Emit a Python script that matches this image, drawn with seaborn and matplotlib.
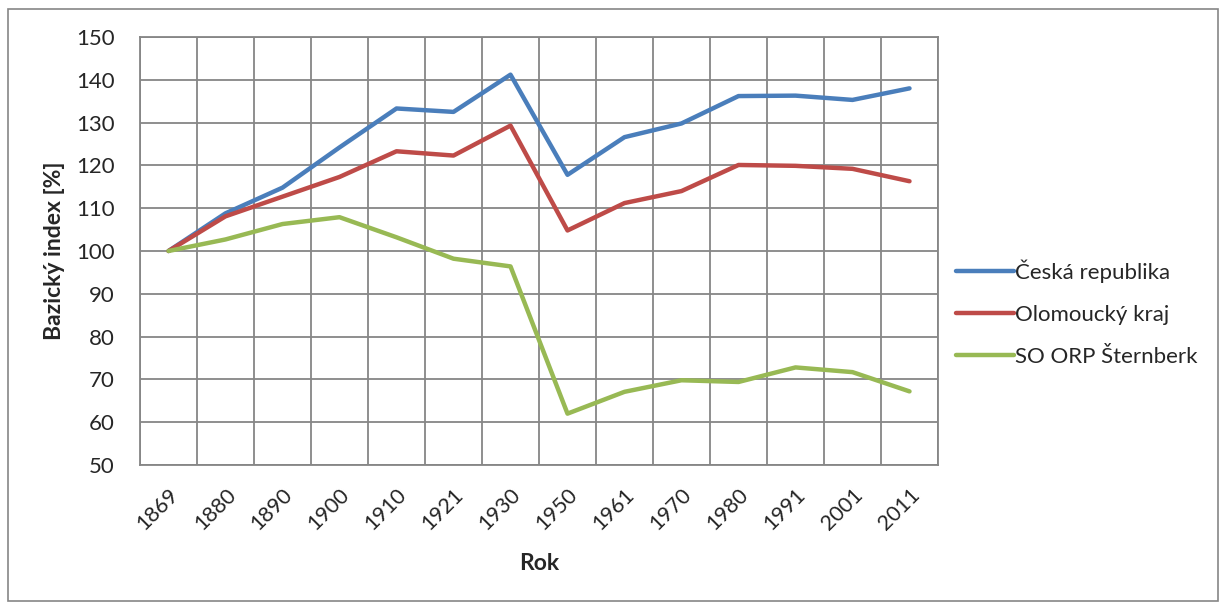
import numpy as np
import pandas as pd
import matplotlib.pyplot as plt
import seaborn as sns
from matplotlib.patches import Rectangle

years = ["1869", "1880", "1890", "1900", "1910", "1921", "1930",
         "1950", "1961", "1970", "1980", "1991", "2001", "2011"]
cr = [100, 108.8, 114.8, 124.2, 133.3, 132.5, 141.2,
      117.8, 126.6, 129.8, 136.2, 136.3, 135.3, 138.0]
olomoucky = [100, 108.1, 112.7, 117.3, 123.3, 122.3, 129.3,
             104.8, 111.2, 114.0, 120.1, 119.9, 119.2, 116.3]
sternberk = [100, 102.7, 106.3, 107.9, 103.2, 98.2, 96.4,
             62.0, 67.1, 69.8, 69.4, 72.8, 71.7, 67.2]
series_names = ["Česká republika", "Olomoucký kraj", "SO ORP Šternberk"]
colors = ["#4A7EBB", "#BE4B48", "#98B954"]

pos = np.arange(len(years))
df = pd.DataFrame({
    "pos": np.tile(pos, 3),
    "value": cr + olomoucky + sternberk,
    "series": np.repeat(series_names, len(years)),
})

sns.set_style("white")
plt.rcParams["font.family"] = ["Lato", "DejaVu Sans"]

fig = plt.figure(figsize=(12.26, 6.09), dpi=100)
ax = fig.add_axes([140 / 1226, 1 - 465 / 609, 798 / 1226, 428 / 609])

sns.lineplot(data=df, x="pos", y="value", hue="series", palette=colors,
             linewidth=3.2, ax=ax, solid_capstyle="round")

grid_col = "#868686"
ax.set_xlim(-0.5, len(years) - 0.5)
ax.set_ylim(50, 150)
ax.set_yticks(np.arange(50, 151, 10))
ax.set_xticks(pos)
ax.set_xticklabels(years, rotation=45, ha="right", rotation_mode="anchor", fontsize=15.5)
ax.set_xticks(np.arange(-0.5, len(years)), minor=True)
ax.tick_params(axis="x", which="major", length=0, pad=14)
ax.tick_params(axis="x", which="minor", length=5, color=grid_col, width=1.3)
ax.tick_params(axis="y", length=5, color=grid_col, width=1.3, labelsize=16, pad=13)
ax.grid(False)
ax.grid(True, axis="y", which="major", color=grid_col, linewidth=1.3)
ax.grid(True, axis="x", which="minor", color=grid_col, linewidth=1.3)
ax.set_axisbelow(True)
for sp in ax.spines.values():
    sp.set_color(grid_col)
    sp.set_linewidth(1.3)

ax.set_xlabel("Rok", fontsize=16.5, fontweight="bold", labelpad=14)
ax.set_ylabel("Bazický index [%]", fontsize=16.5, fontweight="bold", labelpad=8)

leg = ax.legend(loc="center left", bbox_to_anchor=(0.998, 0.355), frameon=False,
                fontsize=16, handlelength=2.6, handletextpad=0.05, labelspacing=1.0)
for line in leg.get_lines():
    line.set_linewidth(3.2)

fig.patches.append(Rectangle((8 / 1226, 8 / 609), 1210 / 1226, 592 / 609,
                             transform=fig.transFigure, fill=False,
                             edgecolor=grid_col, linewidth=1.2))

fig.savefig("out.png", dpi=100)
